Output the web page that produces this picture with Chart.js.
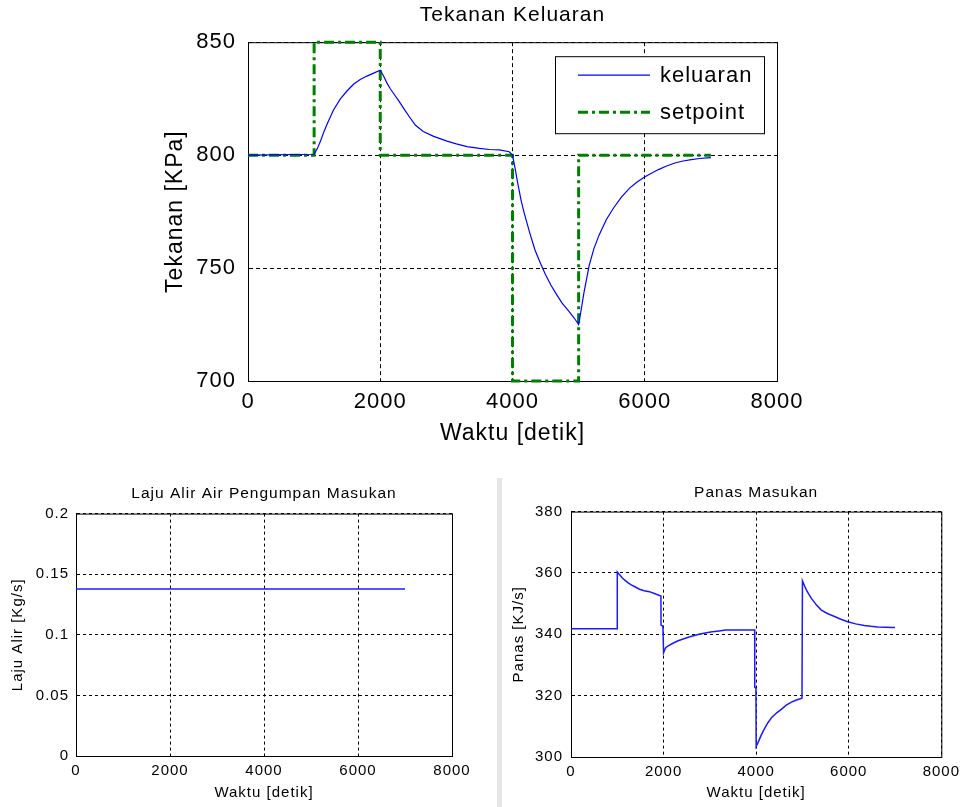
<!DOCTYPE html>
<html>
<head>
<meta charset="utf-8">
<script src="https://cdn.jsdelivr.net/npm/chart.js@4.4.1/dist/chart.umd.min.js"></script>
<style>
  html, body { margin: 0; padding: 0; background: #fff; overflow: hidden; }
  body { width: 964px; height: 807px; position: relative; }
  canvas { position: absolute; }
  .bar { position: absolute; left: 497px; top: 478px; width: 5px; height: 329px; background: #e6e6e6; }
</style>
</head>
<body>
<div class="bar"></div>
<canvas id="tekananChart" width="964" height="450" style="left:0;top:0"></canvas>
<canvas id="lajuChart" width="480" height="337" style="left:0;top:470px"></canvas>
<canvas id="panasChart" width="484" height="337" style="left:480px;top:470px"></canvas>
<script>
// tekanan keluaran (kPa) vs waktu (detik)
const waktuKeluaran = [0, 1000, 1050, 1100, 1150, 1200, 1293, 1394, 1500, 1600, 1697, 1798, 1900, 2000,
  2050, 2100, 2150, 2202, 2280, 2354, 2440, 2530, 2650, 2808, 3010, 3150, 3313, 3500, 3650, 3800, 3950, 4000,
  4040, 4080, 4130, 4171, 4262, 4340, 4424, 4500, 4580, 4651, 4750, 4848, 4930, 5000,
  5030, 5080, 5158, 5230, 5312, 5420, 5528, 5650, 5775, 5880, 5991, 6100, 6207, 6330, 6455, 6580, 6702, 6830, 6949, 7000];
const tekananKeluaran = [800, 800.4, 803, 806.5, 810.5, 814, 820, 824.8, 828.5, 831.5, 833.5, 835, 836.3, 837.6,
  835, 832, 829.5, 827.3, 824, 820.7, 817, 813.3, 810.5, 808.3, 806.2, 805, 803.8, 803, 802.5, 802.3, 801.5, 800,
  794, 787.5, 780, 775, 765.5, 758, 752, 747, 742.5, 739, 734.5, 731, 728, 725,
  730, 739, 751, 758.5, 764.8, 771.5, 776.6, 781.5, 785.5, 788, 790.2, 792, 793.6, 795.2, 796.5, 797.4, 798, 798.5, 798.8, 798.9];

// setpoint (step)
const waktuSetpoint = [0, 1000, 2000, 4000, 5000, 7000];
const tekananSetpoint = [800, 850, 800, 700, 800, 800];

// laju alir air pengumpan (kg/s)
const waktuLaju = [0, 7000];
const lajuAlir = [0.1377, 0.1377];

// panas masukan (kJ/s)
const waktuPanas = [0, 1000, 1000, 1050, 1100, 1150, 1200, 1250, 1300, 1380, 1479, 1580, 1693, 1800, 1943,
  1945, 1985, 2000, 2020, 2050, 2100, 2193, 2300, 2407, 2550, 2764, 2900, 3050, 3200, 3336, 3968,
  3970, 3995, 4000, 4050, 4100, 4157, 4250, 4336, 4450, 4550, 4650, 4764, 4870, 4990,
  5000, 5040, 5090, 5140, 5193, 5300, 5407, 5550, 5693, 5830, 5979, 6150, 6336, 6480, 6621, 6800, 6964, 7000];
const panasMasukan = [341.8, 341.8, 360.3, 359.4, 358.5, 357.8, 357.2, 356.6, 356.1, 355.5, 354.7, 354.2, 353.9, 353.3, 352.5,
  343, 342.7, 334, 334.8, 335.7, 336.2, 337, 337.8, 338.4, 339.1, 340, 340.4, 340.8, 341.1, 341.4, 341.4,
  322.7, 322.5, 303.5, 305, 306.8, 308.6, 311.1, 312.9, 314.5, 315.6, 316.9, 317.9, 318.6, 319.2,
  357.4, 356, 354.3, 353, 351.7, 349.6, 347.9, 346.7, 345.8, 344.9, 344.1, 343.4, 342.9, 342.6, 342.4, 342.3, 342.2, 342.2];

const waktuTicks = ['0', '2000', '4000', '6000', '8000'];
const tekananTicks = ['700', '750', '800', '850'];
const lajuTicks = ['0', '0.05', '0.1', '0.15', '0.2'];
const panasTicks = ['300', '320', '340', '360', '380'];

const FONT = "'Liberation Sans', Arial, Helvetica, sans-serif";
Chart.defaults.color = '#000';
Chart.defaults.font.family = FONT;

const pts = (xs, ys) => xs.map((x, i) => ({ x: x, y: ys[i] }));

// matlab-like text is a bit wider
const spacing = {
  id: 'spacing',
  beforeDraw(chart) { chart.ctx.letterSpacing = '1px'; }
};

// full box around the axes
const frame = {
  id: 'frame',
  beforeDatasetsDraw(chart) {
    const { ctx, chartArea: a } = chart;
    ctx.save();
    ctx.strokeStyle = '#000';
    ctx.lineWidth = 1;
    ctx.setLineDash([]);
    ctx.strokeRect(a.left + 0.5, a.top + 0.5, a.width, a.height);
    ctx.restore();
  }
};

// legend inside the plot, upper right
const legendBox = {
  id: 'legendBox',
  afterDraw(chart) {
    const { ctx, chartArea: a } = chart;
    const w = 209, h = 77;
    const x = a.right - 13 - w, y = a.top + 14;
    ctx.save();
    ctx.fillStyle = '#fff';
    ctx.fillRect(x, y, w, h);
    ctx.strokeStyle = '#000';
    ctx.lineWidth = 1;
    ctx.strokeRect(x + 0.5, y + 0.5, w, h);
    chart.data.datasets.forEach((ds, i) => {
      const ly = y + 19 + i * 37;
      ctx.strokeStyle = ds.borderColor;
      ctx.lineWidth = ds.borderWidth;
      ctx.setLineDash(ds.borderDash || []);
      ctx.beginPath();
      ctx.moveTo(x + 23, ly);
      ctx.lineTo(x + 95, ly);
      ctx.stroke();
      ctx.setLineDash([]);
      ctx.fillStyle = '#000';
      ctx.font = '22px ' + FONT;
      ctx.textAlign = 'left';
      ctx.textBaseline = 'middle';
      ctx.fillText(ds.label, x + 105, ly + 1);
    });
    ctx.restore();
  }
};

function axes(o) {
  return {
    x: {
      type: 'linear', min: 0, max: 8000,
      afterFit: s => { s.height = o.xH; },
      ticks: {
        stepSize: 2000, autoSkip: false, maxRotation: 0, padding: o.xPad,
        font: { size: o.tick },
        callback: (v, i) => waktuTicks[i]
      },
      grid: { color: '#000', lineWidth: 1, drawTicks: false },
      border: { display: true, color: '#000', dash: o.dash },
      title: { display: true, text: 'Waktu [detik]', font: { size: o.label }, padding: { top: 0, bottom: o.xTitlePad } }
    },
    y: {
      type: 'linear', min: o.yMin, max: o.yMax,
      afterFit: s => { s.width = o.yW; },
      ticks: {
        stepSize: o.yStep, autoSkip: false, padding: o.yPad,
        font: { size: o.tick },
        callback: (v, i) => o.yTicks[i]
      },
      grid: { color: '#000', lineWidth: 1, drawTicks: false },
      border: { display: true, color: '#000', dash: o.dash },
      title: { display: true, text: o.yText, font: { size: o.label }, padding: { top: o.yTitlePad, bottom: 0 } }
    }
  };
}

function base(o) {
  return {
    responsive: false,
    animation: false,
    layout: { padding: o.padding },
    plugins: {
      legend: { display: false },
      tooltip: { enabled: false },
      title: {
        display: true, text: o.title, fullSize: false, color: '#000',
        font: { size: o.titleSize, weight: 'normal' },
        padding: o.titlePad
      }
    },
    elements: { point: { radius: 0 }, line: { tension: 0 } },
    scales: axes(o)
  };
}

new Chart(document.getElementById('tekananChart'), {
  type: 'line',
  data: {
    datasets: [
      {
        label: 'keluaran',
        data: pts(waktuKeluaran, tekananKeluaran),
        borderColor: '#0000ff',
        borderWidth: 1.2,
        clip: 4
      },
      {
        label: 'setpoint',
        data: pts(waktuSetpoint, tekananSetpoint),
        borderColor: '#008000',
        borderWidth: 3,
        borderDash: [10, 4, 3, 4],
        stepped: 'before',
        clip: 4
      }
    ]
  },
  options: base({
    title: 'Tekanan Keluaran', titleSize: 21, titlePad: { top: 3, bottom: 14 },
    padding: { left: 0, right: 187, top: 0, bottom: 0 },
    tick: 22, label: 23, dash: [4, 3],
    xH: 69, xPad: 8, xTitlePad: 3,
    yW: 248, yPad: 12, yTitlePad: 162,
    yMin: 700, yMax: 850, yStep: 50, yTicks: tekananTicks, yText: 'Tekanan [KPa]'
  }),
  plugins: [spacing, frame, legendBox]
});

new Chart(document.getElementById('lajuChart'), {
  type: 'line',
  data: {
    datasets: [{
      label: 'laju alir',
      data: pts(waktuLaju, lajuAlir),
      borderColor: '#1a1aff',
      borderWidth: 1.5
    }]
  },
  options: base({
    title: 'Laju Alir Air Pengumpan Masukan', titleSize: 15.5, titlePad: { top: 14, bottom: 11 },
    padding: { left: 0, right: 28, top: 0, bottom: 0 },
    tick: 15, label: 15, dash: [3, 3],
    xH: 51, xPad: 6, xTitlePad: 5,
    yW: 76, yPad: 7, yTitlePad: 9,
    yMin: 0, yMax: 0.2, yStep: 0.05, yTicks: lajuTicks, yText: 'Laju Alir [Kg/s]'
  }),
  plugins: [spacing, frame]
});

new Chart(document.getElementById('panasChart'), {
  type: 'line',
  data: {
    datasets: [{
      label: 'panas',
      data: pts(waktuPanas, panasMasukan),
      borderColor: '#1a1aff',
      borderWidth: 1.5
    }]
  },
  options: base({
    title: 'Panas Masukan', titleSize: 15.5, titlePad: { top: 13, bottom: 10 },
    padding: { left: 0, right: 20, top: 0, bottom: 0 },
    tick: 15, label: 15, dash: [3, 3],
    xH: 50, xPad: 6, xTitlePad: 5,
    yW: 91, yPad: 8, yTitlePad: 30,
    yMin: 300, yMax: 380, yStep: 20, yTicks: panasTicks, yText: 'Panas [KJ/s]'
  }),
  plugins: [spacing, frame]
});
</script>
</body>
</html>
